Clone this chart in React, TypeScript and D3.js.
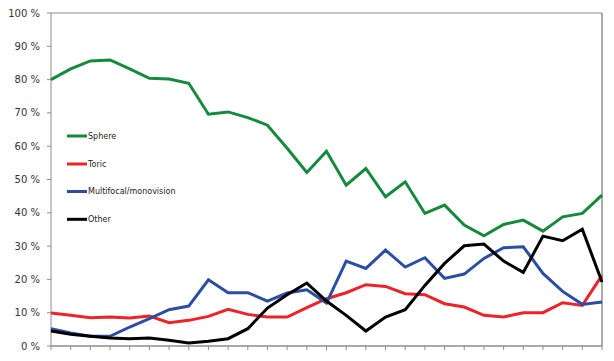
import React from "react";
import * as d3 from "d3";

const categories = d3.range(29).map((i) => `P${i + 1}`);
const sphere = [80, 83.2, 85.6, 85.9, 83.2, 80.4, 80.2, 78.9, 69.6, 70.3, 68.6, 66.3, 59.4, 52.1, 58.5, 48.3, 53.3, 44.8, 49.3, 39.8, 42.3, 36.3, 33.1, 36.5, 37.8, 34.5, 38.8, 39.8, 45.3];
const toric = [9.9, 9.2, 8.5, 8.7, 8.4, 9.0, 7.0, 7.7, 8.9, 11.0, 9.5, 8.7, 8.7, 11.5, 14.2, 16.0, 18.4, 17.9, 15.7, 15.4, 12.7, 11.7, 9.2, 8.7, 10.0, 10.0, 13.0, 12.2, 21.2];
const multifocal = [5.2, 3.9, 2.9, 2.9, 5.7, 8.2, 10.9, 12.0, 19.9, 16.0, 16.0, 13.5, 15.9, 16.9, 12.9, 25.5, 23.3, 28.8, 23.7, 26.5, 20.3, 21.6, 26.3, 29.5, 29.8, 21.8, 16.4, 12.5, 13.2];
const other = [4.5, 3.5, 2.9, 2.4, 2.2, 2.4, 1.7, 0.9, 1.4, 2.2, 5.2, 11.4, 15.4, 18.9, 13.5, 9.2, 4.5, 8.7, 10.9, 18.2, 24.8, 30.1, 30.6, 25.5, 22.1, 33.0, 31.6, 35.1, 19.2];
const yTicks = [0, 10, 20, 30, 40, 50, 60, 70, 80, 90, 100];

const seriesNames = ["Sphere", "Toric", "Multifocal/monovision", "Other"];
const seriesColors = ["#168a3c", "#ec2327", "#2b4ea3", "#000000"];
const seriesData = [sphere, toric, multifocal, other];

export default function App() {
  const W = 614, H = 361;
  const left = 51, right = 602, top = 13, bottom = 346;
  const x = d3.scalePoint<string>().domain(categories).range([left, right]);
  const y = d3.scaleLinear().domain([0, 100]).range([bottom, top]);
  const line = d3
    .line<number>()
    .x((_, i) => x(categories[i]) as number)
    .y((d) => y(d));
  const font = "DejaVu Sans, Verdana, sans-serif";
  const legendY = [136, 164, 191.5, 219.3];
  return (
    <svg width={W} height={H} style={{ position: "absolute", left: 0, top: 0, background: "#fff" }}>
      {/* plot border */}
      <line x1={left} x2={right} y1={top} y2={top} stroke="#8c8c8c" strokeWidth={1} />
      <line x1={right} x2={right} y1={top} y2={bottom} stroke="#8c8c8c" strokeWidth={1.5} />
      <line x1={left} x2={left} y1={top} y2={bottom} stroke="#8c8c8c" strokeWidth={1} />
      <line x1={left} x2={right} y1={bottom} y2={bottom} stroke="#8c8c8c" strokeWidth={1.5} />
      {yTicks.map((t) => (
        <g key={t}>
          <line x1={left - 4} x2={left} y1={y(t)} y2={y(t)} stroke="#8c8c8c" />
          <text x={40} y={y(t)} dy="0.35em" textAnchor="end" fontFamily={font} fontSize={10} fill="#333">
            {`${t} %`}
          </text>
        </g>
      ))}
      {categories.map((c) => (
        <line key={c} x1={x(c)} x2={x(c)} y1={bottom} y2={bottom + 4} stroke="#8c8c8c" />
      ))}
      {seriesData.map((d, i) => (
        <path key={seriesNames[i]} d={line(d) || ""} fill="none" stroke={seriesColors[i]} strokeWidth={3} strokeLinejoin="miter" />
      ))}
      {seriesNames.map((n, i) => (
        <g key={n}>
          <line x1={67} x2={87} y1={legendY[i]} y2={legendY[i]} stroke={seriesColors[i]} strokeWidth={3} />
          <text x={88} y={legendY[i]} dy="0.35em" fontFamily={font} fontSize={8} fill="#222">
            {n}
          </text>
        </g>
      ))}
    </svg>
  );
}
